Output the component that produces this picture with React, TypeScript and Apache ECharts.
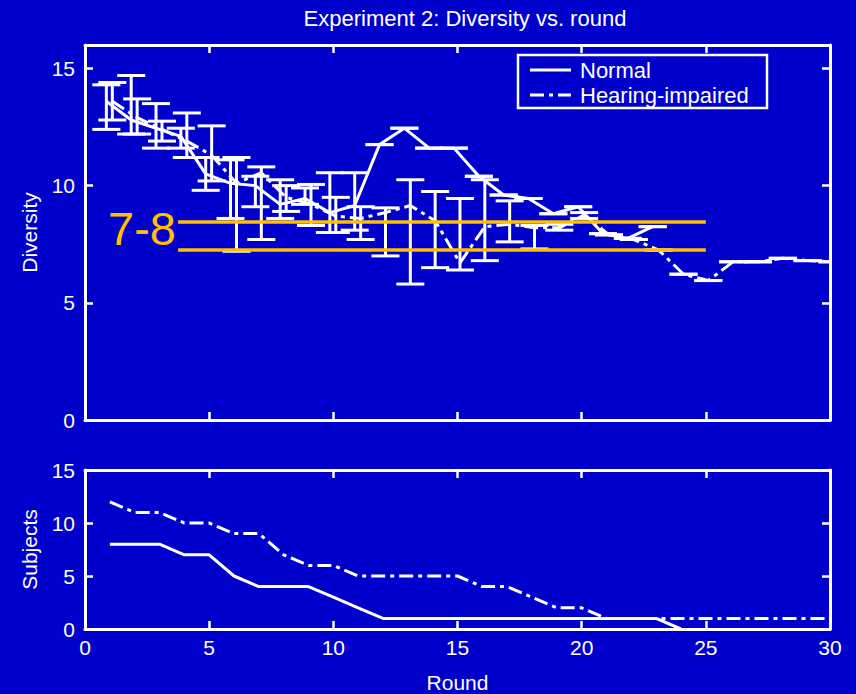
import React, { useEffect, useRef } from "react";
import * as echarts from "echarts";

// ---------- data ----------
const normalRounds = [1, 2, 3, 4, 5, 6, 7, 8, 9, 10, 11, 12, 13, 14, 15, 16, 17, 18, 19, 20, 21, 22, 23];
const normalMean = [13.6, 12.8, 12.45, 12.1, 10.5, 10.1, 10.0, 9.2, 9.45, 8.85, 9.15, 11.75, 12.45, 11.6, 11.6, 10.4, 9.6, 9.45, 8.8, 9.1, 7.95, 7.75, 8.25];
const normalLow = [12.4, 12.2, 11.6, 11.6, 9.8, 8.6, 9.1, 8.6, 9.2, 8.0, 8.1, 11.75, 12.45, 11.6, 11.6, 10.4, 9.6, 9.45, 8.8, 9.1, 7.95, 7.75, 8.25];
const normalHigh = [14.3, 14.7, 13.5, 12.45, 11.2, 11.1, 10.4, 10.25, 9.9, 10.55, 10.55, 11.75, 12.45, 11.6, 11.6, 10.4, 9.6, 9.45, 8.8, 9.1, 7.95, 7.75, 8.25];

const hiRounds = [1, 2, 3, 4, 5, 6, 7, 8, 9, 10, 11, 12, 13, 14, 15, 16, 17, 18, 19, 20, 21, 22, 23, 24, 25, 26, 27, 28, 29, 30];
const hiMean = [13.6, 12.9, 12.4, 11.9, 11.3, 10.1, 10.55, 9.5, 9.2, 8.7, 8.6, 8.85, 9.15, 8.5, 6.7, 8.25, 8.35, 8.2, 8.2, 8.75, 7.9, 7.7, 7.25, 6.22, 5.95, 6.75, 6.75, 6.9, 6.8, 6.75];
const hiLow = [12.8, 12.2, 11.9, 11.2, 10.2, 7.2, 7.7, 8.9, 8.3, 8.0, 7.7, 7.0, 5.8, 6.5, 6.4, 6.8, 7.6, 7.3, 8.1, 8.6, 7.9, 7.7, 7.25, 6.22, 5.95, 6.75, 6.75, 6.9, 6.8, 6.75];
const hiHigh = [14.4, 13.7, 12.75, 13.1, 12.55, 11.2, 10.8, 10.0, 10.05, 9.5, 9.1, 9.05, 10.25, 9.75, 9.45, 10.25, 9.35, 8.3, 8.35, 8.85, 7.9, 7.7, 7.25, 6.22, 5.95, 6.75, 6.75, 6.9, 6.8, 6.75];

const normalSubjRounds = [1, 2, 3, 4, 5, 6, 7, 8, 9, 10, 11, 12, 13, 14, 15, 16, 17, 18, 19, 20, 21, 22, 23, 24];
const normalSubjects = [8, 8, 8, 7, 7, 5, 4, 4, 4, 3, 2, 1, 1, 1, 1, 1, 1, 1, 1, 1, 1, 1, 1, 0];
const hiSubjRounds = [1, 2, 3, 4, 5, 6, 7, 8, 9, 10, 11, 12, 13, 14, 15, 16, 17, 18, 19, 20, 21, 22, 23, 24, 25, 26, 27, 28, 29, 30];
const hiSubjects = [12, 11, 11, 10, 10, 9, 9, 7, 6, 6, 5, 5, 5, 5, 5, 4, 4, 3, 2, 2, 1, 1, 1, 1, 1, 1, 1, 1, 1, 1];

const bandLevels = [8.45, 7.25];
const bandRounds = [3.75, 25];
const bandLabel = "7-8";

const seriesNames = ["Normal", "Hearing-impaired"];

// ---------- style ----------
const BG = "#0000CC";
const WHITE = "#FFFFFF";
const GOLD = "#FFC000";
const FONT = "Liberation Sans, Arial, sans-serif";
const NORMAL_DODGE = -0.14;
const HI_DODGE = 0.1;
const DASH = [14, 5, 4, 5];

function errorBarItem(params: any, api: any) {
  const x = api.value(0);
  const lo = api.value(1);
  const hi = api.value(2);
  const pTop = api.coord([x, hi]);
  const pBot = api.coord([x, lo]);
  const hw = 14;
  const style = { stroke: WHITE, lineWidth: 3 };
  return {
    type: "group",
    children: [
      { type: "line", shape: { x1: pTop[0], y1: pTop[1], x2: pBot[0], y2: pBot[1] }, style },
      { type: "line", shape: { x1: pTop[0] - hw, y1: pTop[1], x2: pTop[0] + hw, y2: pTop[1] }, style },
      { type: "line", shape: { x1: pBot[0] - hw, y1: pBot[1], x2: pBot[0] + hw, y2: pBot[1] }, style },
    ],
  };
}

function xAxisDef(gridIndex: number, position: string, showLabel: boolean, name?: string) {
  return {
    type: "value",
    gridIndex,
    position,
    min: 0,
    max: 30,
    interval: 5,
    name: name || "",
    nameLocation: "middle",
    nameGap: 43,
    nameTextStyle: { color: WHITE, fontSize: 21, fontFamily: FONT },
    axisLine: { show: true, onZero: false, lineStyle: { color: WHITE, width: 3 } },
    axisTick: { show: true, inside: true, length: 8, lineStyle: { color: WHITE, width: 2.5 } },
    axisLabel: { show: showLabel, color: WHITE, fontSize: 21, fontFamily: FONT, margin: 8 },
    splitLine: { show: false },
  };
}

function yAxisDef(gridIndex: number, position: string, showLabel: boolean, max: number, name?: string) {
  return {
    type: "value",
    gridIndex,
    position,
    min: 0,
    max,
    interval: 5,
    name: name || "",
    nameLocation: "middle",
    nameGap: 45,
    nameTextStyle: { color: WHITE, fontSize: 21, fontFamily: FONT },
    axisLine: { show: true, onZero: false, lineStyle: { color: WHITE, width: 3 } },
    axisTick: { show: true, inside: true, length: 8, lineStyle: { color: WHITE, width: 2.5 } },
    axisLabel: { show: showLabel, color: WHITE, fontSize: 21, fontFamily: FONT, margin: 10, showMaxLabel: max === 15 },
    splitLine: { show: false },
  };
}

export default function App() {
  const ref = useRef<HTMLDivElement>(null);

  useEffect(() => {
    document.body.style.margin = "0";
    document.body.style.background = BG;
    const chart = echarts.init(ref.current!, undefined, { renderer: "svg" });

    const legendX = 518;
    const legendY = 55;

    const option: any = {
      animation: false,
      backgroundColor: BG,
      textStyle: { fontFamily: FONT },
      graphic: [
        {
          type: "text",
          x: 465,
          y: 18,
          style: {
            text: "Experiment 2: Diversity vs. round",
            fill: WHITE,
            fontSize: 22,
            fontFamily: FONT,
            textAlign: "center",
            textVerticalAlign: "middle",
          },
        },
        {
          type: "text",
          x: 108,
          y: 228,
          z: 100,
          style: {
            text: bandLabel,
            fill: GOLD,
            fontSize: 47,
            fontFamily: FONT,
            textAlign: "left",
            textVerticalAlign: "middle",
          },
        },
        {
          type: "group",
          x: legendX,
          y: legendY,
          z: 100,
          children: [
            {
              type: "rect",
              shape: { x: 0, y: 0, width: 249, height: 53 },
              style: { fill: BG, stroke: WHITE, lineWidth: 2.5 },
            },
            {
              type: "line",
              shape: { x1: 12, y1: 15, x2: 53, y2: 15 },
              style: { stroke: WHITE, lineWidth: 3 },
            },
            {
              type: "line",
              shape: { x1: 12, y1: 40, x2: 53, y2: 40 },
              style: { stroke: WHITE, lineWidth: 3, lineDash: DASH },
            },
            {
              type: "text",
              x: 62,
              y: 15,
              style: { text: seriesNames[0], fill: WHITE, fontSize: 22, fontFamily: FONT, textVerticalAlign: "middle" },
            },
            {
              type: "text",
              x: 62,
              y: 40,
              style: { text: seriesNames[1], fill: WHITE, fontSize: 22, fontFamily: FONT, textVerticalAlign: "middle" },
            },
          ],
        },
      ],
      grid: [
        { left: 85, top: 45, width: 745, height: 375 },
        { left: 85, top: 470, width: 745, height: 161 },
      ],
      xAxis: [
        xAxisDef(0, "bottom", false),
        xAxisDef(0, "top", false),
        xAxisDef(1, "bottom", true, "Round"),
        xAxisDef(1, "top", false),
      ],
      yAxis: [
        yAxisDef(0, "left", true, 16, "Diversity"),
        yAxisDef(0, "right", false, 16),
        yAxisDef(1, "left", true, 15, "Subjects"),
        yAxisDef(1, "right", false, 15),
      ],
      series: [
        {
          name: "Normal bars",
          type: "custom",
          xAxisIndex: 0,
          yAxisIndex: 0,
          clip: true,
          renderItem: errorBarItem,
          encode: { x: 0, y: [1, 2] },
          data: normalRounds.map((r, i) => [r + NORMAL_DODGE, normalLow[i], normalHigh[i]]),
          silent: true,
        },
        {
          name: "HI bars",
          type: "custom",
          xAxisIndex: 0,
          yAxisIndex: 0,
          clip: true,
          renderItem: errorBarItem,
          encode: { x: 0, y: [1, 2] },
          data: hiRounds.map((r, i) => [r + HI_DODGE, hiLow[i], hiHigh[i]]),
          silent: true,
        },
        {
          name: seriesNames[0],
          type: "line",
          xAxisIndex: 0,
          yAxisIndex: 0,
          symbol: "none",
          clip: true,
          color: WHITE,
          lineStyle: { color: WHITE, width: 3, type: "solid" },
          data: normalRounds.map((r, i) => [r + NORMAL_DODGE, normalMean[i]]),
        },
        {
          name: seriesNames[1],
          type: "line",
          xAxisIndex: 0,
          yAxisIndex: 0,
          symbol: "none",
          clip: true,
          color: WHITE,
          lineStyle: { color: WHITE, width: 3, type: DASH },
          data: hiRounds.map((r, i) => [r + HI_DODGE, hiMean[i]]),
        },
        {
          name: "band",
          type: "line",
          xAxisIndex: 0,
          yAxisIndex: 0,
          data: [],
          z: 10,
          silent: true,
          markLine: {
            silent: true,
            symbol: "none",
            label: { show: false },
            lineStyle: { color: GOLD, width: 3.5, type: "solid", opacity: 1 },
            data: bandLevels.map((lv) => [
              { coord: [bandRounds[0], lv] },
              { coord: [bandRounds[1], lv] },
            ]),
          },
        },
        {
          name: "Normal subjects",
          type: "line",
          xAxisIndex: 2,
          yAxisIndex: 2,
          symbol: "none",
          lineStyle: { color: WHITE, width: 3, type: "solid" },
          data: normalSubjRounds.map((r, i) => [r, normalSubjects[i]]),
        },
        {
          name: "Hearing-impaired subjects",
          type: "line",
          xAxisIndex: 2,
          yAxisIndex: 2,
          symbol: "none",
          lineStyle: { color: WHITE, width: 3, type: DASH },
          data: hiSubjRounds.map((r, i) => [r, hiSubjects[i]]),
        },
      ],
    };

    chart.setOption(option);
    return () => chart.dispose();
  }, []);

  return (
    <div
      ref={ref}
      style={{ position: "fixed", left: 0, top: 0, width: 856, height: 694, background: BG }}
    />
  );
}
